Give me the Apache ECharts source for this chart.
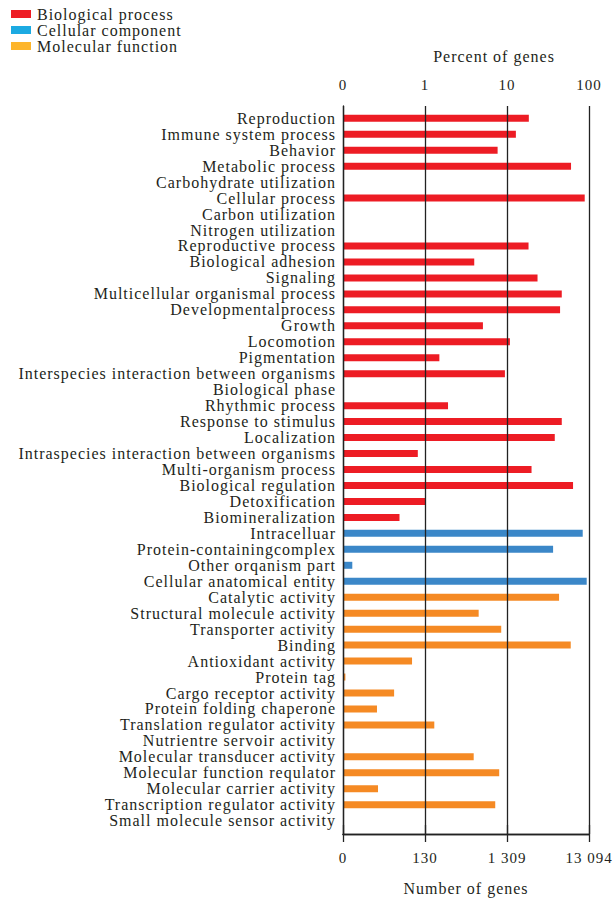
<!DOCTYPE html>
<html>
<head>
<meta charset="utf-8">
<script src="https://cdn.jsdelivr.net/npm/echarts@6/dist/echarts.min.js"></script>
<style>
html,body{margin:0;padding:0;background:#fff}
#c{width:614px;height:901px;letter-spacing:1px}
</style>
</head>
<body>
<div id="c"></div>
<script>
const TOTAL_GENES = 13094;

const bioCategories = ['Reproduction','Immune system process','Behavior','Metabolic process','Carbohydrate utilization','Cellular process','Carbon utilization','Nitrogen utilization','Reproductive process','Biological adhesion','Signaling','Multicellular organismal process','Developmentalprocess','Growth','Locomotion','Pigmentation','Interspecies interaction between organisms','Biological phase','Rhythmic process','Response to stimulus','Localization','Intraspecies interaction between organisms','Multi-organism process','Biological regulation','Detoxification','Biomineralization'];
const bioValues = [2417,1680,1006,7907,0,11609,0,0,2397,522,3086,6095,5811,666,1421,196,1235,0,250,6095,5008,107,2608,8366,131,64];

const cellCategories = ['Intracelluar','Protein-containingcomplex','Other orqanism part','Cellular anatomical entity'];
const cellValues = [10977,4777,17,12277];

const molCategories = ['Catalytic activity','Structural molecule activity','Transporter activity','Binding','Antioxidant activity','Protein tag','Cargo receptor activity','Protein folding chaperone','Translation regulator activity','Nutrientre servoir activity','Molecular transducer activity','Molecular function requlator','Molecular carrier activity','Transcription regulator activity','Small molecule sensor activity'];
const molValues = [5650,591,1113,7842,91,14,55,34,170,0,514,1052,35,941,0];

const seriesNames = ['Biological process','Cellular component','Molecular function'];
const barColors = ['#ED1C24','#3B87C8','#F58A24'];
const legendColors = ['#EE1D25','#1CAAE2','#FDB52B'];

const percentTickLabels = ['0','1','10','100'];
const geneTickLabels = ['0','130','1 309','13 094'];

const categories = bioCategories.concat(cellCategories, molCategories);
// axis unit = 0.1 % of all genes, so the log axis runs 1 .. 1000
const UNIT = TOTAL_GENES / 1000;
function seriesData(cats, vals) {
  return categories.map(function (c) {
    const i = cats.indexOf(c);
    return (i < 0 || !vals[i]) ? null : vals[i] / UNIT;
  });
}
function tickIdx(v) { return Math.round(Math.log10(v)); }

const groups = [[bioCategories, bioValues],[cellCategories, cellValues],[molCategories, molValues]];
const FONT = '"Liberation Serif","Times New Roman",serif';
const TXT = '#231F20';

const chart = echarts.init(document.getElementById('c'), null, {renderer: 'svg'});
chart.setOption({
  backgroundColor: '#fff',
  animation: false,
  textStyle: {fontFamily: FONT, color: TXT},
  legend: {
    orient: 'vertical', left: 6, top: 1,
    itemWidth: 20, itemHeight: 8, itemGap: 0,
    icon: 'rect',
    selectedMode: false,
    textStyle: {fontFamily: FONT, fontSize: 16, color: TXT, lineHeight: 16, padding: [0,0,0,1]},
    data: seriesNames.map(function (n, i) { return {name: n, itemStyle: {color: legendColors[i]}}; })
  },
  grid: [
    {left: 343, right: 25, top: 106, bottom: 67},
    {left: 343, right: 25, top: 110.3, bottom: 72.3}
  ],
  xAxis: [
    {
      gridIndex: 0, type: 'log', logBase: 10, min: 1, max: 1000, position: 'top', z: 5,
      axisLine: {show: true, lineStyle: {color: '#222', width: 1.3}},
      axisTick: {show: true, length: 9, lineStyle: {color: '#222', width: 1.3}},
      splitLine: {show: true, lineStyle: {color: '#222', width: 1.3}},
      minorTick: {show: false}, minorSplitLine: {show: false},
      axisLabel: {fontFamily: FONT, fontSize: 15, color: TXT, margin: 14,
        formatter: function (v) { return percentTickLabels[tickIdx(v)]; }},
      name: 'Percent of genes', nameLocation: 'middle', nameGap: 42,
      nameTextStyle: {fontFamily: FONT, fontSize: 16, color: TXT, padding: [0,0,0,56]}
    },
    {
      gridIndex: 0, type: 'log', logBase: 10, min: 1, max: 1000, position: 'bottom', z: 5,
      axisLine: {show: true, lineStyle: {color: '#222', width: 1.3}},
      axisTick: {show: true, length: 8, lineStyle: {color: '#222', width: 1.3}},
      splitLine: {show: false},
      axisLabel: {fontFamily: FONT, fontSize: 15, color: TXT, margin: 16,
        formatter: function (v) { return geneTickLabels[tickIdx(v)]; }},
      name: 'Number of genes', nameLocation: 'middle', nameGap: 46,
      nameTextStyle: {fontFamily: FONT, fontSize: 16, color: TXT}
    },
    {gridIndex: 1, type: 'log', logBase: 10, min: 1, max: 1000, show: false}
  ],
  yAxis: [
    {gridIndex: 0, type: 'value', min: 0, max: 1, z: 5,
      axisLine: {show: true, lineStyle: {color: '#222', width: 1.3}},
      axisTick: {show: false}, axisLabel: {show: false}, splitLine: {show: false}},
    {gridIndex: 1, type: 'category', data: categories, inverse: true,
      axisLine: {show: false}, axisTick: {show: false}, splitLine: {show: false},
      axisLabel: {fontFamily: FONT, fontSize: 16, color: TXT, margin: 7, interval: 0}}
  ],
  series: groups.map(function (g, i) {
    return {
      name: seriesNames[i], type: 'bar', xAxisIndex: 2, yAxisIndex: 1,
      barWidth: 7, barGap: '-100%',
      itemStyle: {color: barColors[i]},
      data: seriesData(g[0], g[1])
    };
  })
});
</script>
</body>
</html>
